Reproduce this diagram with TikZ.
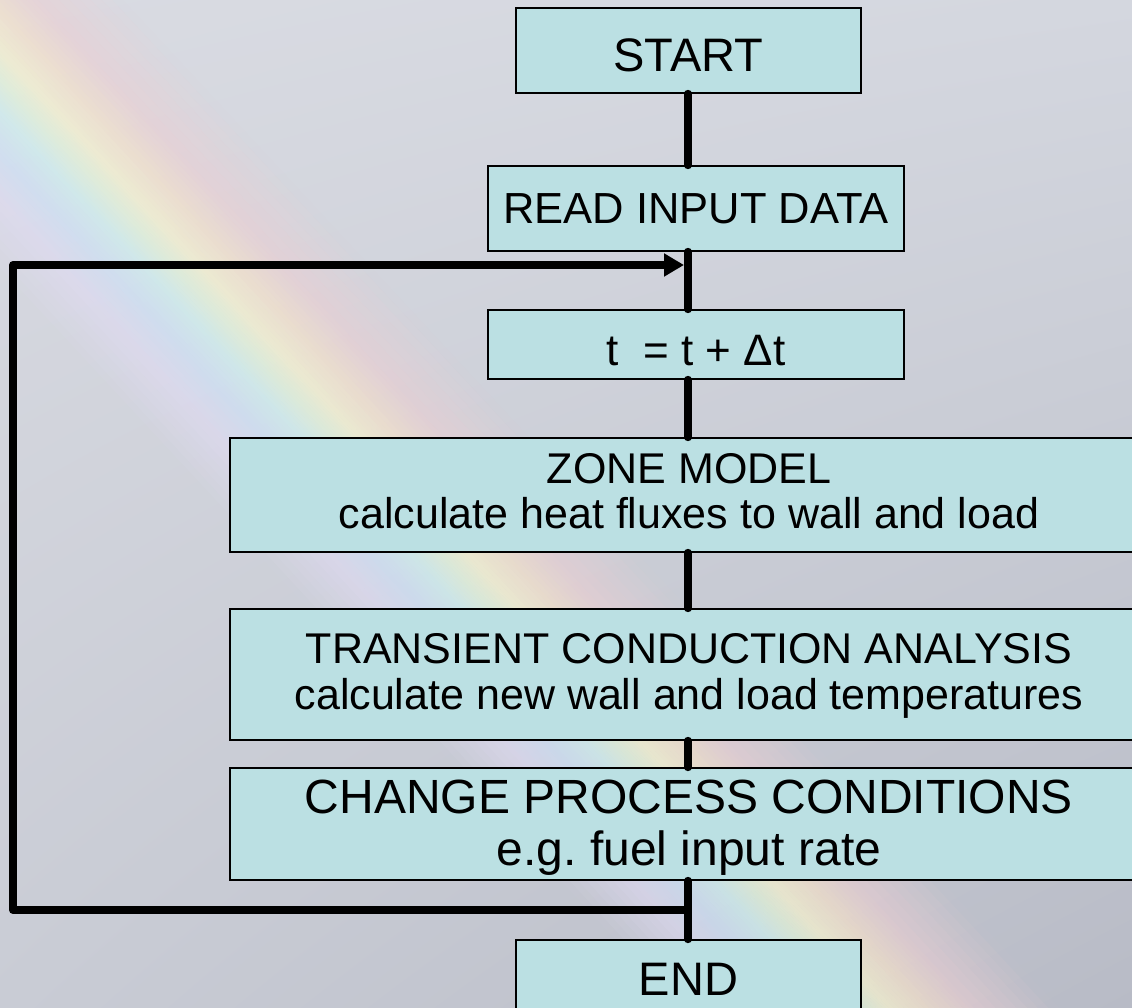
\documentclass[tikz,border=0pt]{standalone}
\usepackage{fontspec}
\setmainfont{Liberation Sans}
\usetikzlibrary{arrows.meta,shadings}
\frenchspacing

% colours
\definecolor{boxfill}{RGB}{187,224,227}
\definecolor{bgTL}{RGB}{217,219,226}
\definecolor{bgTR}{RGB}{212,215,223}
\definecolor{bgBL}{RGB}{201,204,213}
\definecolor{bgBR}{RGB}{184,187,198}
\definecolor{rbLav}{RGB}{226,220,246}
\definecolor{rbBlue}{RGB}{206,226,250}
\definecolor{rbCyan}{RGB}{206,242,240}
\definecolor{rbGreen}{RGB}{228,246,216}
\definecolor{rbYellow}{RGB}{247,243,205}
\definecolor{rbPeach}{RGB}{247,225,200}
\definecolor{rbPink}{RGB}{238,206,210}

\newcommand\fsz[1]{\fontsize{#1}{#1}\selectfont}

\begin{document}
\begin{tikzpicture}[x=1pt,y=-1pt,
  stepbox/.style={draw=black, line width=1.6pt, fill=boxfill, inner sep=0pt},
  link/.style={draw=black, line width=8pt, line cap=round},
  looplink/.style={draw=black, line width=8pt, line join=round,
    -{Triangle[length=20pt,width=22pt]}},
  txt/.style={anchor=base, inner sep=0pt, text=black}]

\useasboundingbox (0,0) rectangle (1132,1008);
\clip (0,0) rectangle (1132,1008);

% grey backdrop
\shade[upper left=bgTL, upper right=bgTR, lower left=bgBL, lower right=bgBR]
  (0,0) rectangle (1132,1008);

% pale diagonal rainbow band, built from thin strips
\foreach \da/\db/\ca/\cb/\pa/\pb in {
   -210/-140/rbLav/rbLav/0/0.55,
   -140/-95/rbLav/rbBlue/0.55/0.6,
   -95/-55/rbBlue/rbCyan/0.6/0.65,
   -55/-25/rbCyan/rbGreen/0.65/0.65,
   -25/0/rbGreen/rbYellow/0.65/0.7,
   0/40/rbYellow/rbPeach/0.7/0.65,
   40/85/rbPeach/rbPink/0.65/0.55,
   85/170/rbPink/rbPink/0.55/0}{
  \foreach \k in {0,...,7}{
    \pgfmathsetmacro\lo{\da+(\db-\da)*\k/8}
    \pgfmathsetmacro\hi{\da+(\db-\da)*(\k+1)/8}
    \pgfmathtruncatemacro\mx{100-100*(\k+0.5)/8}
    \pgfmathsetmacro\op{\pa+(\pb-\pa)*(\k+0.5)/8}
    \fill[fill=\ca!\mx!\cb, fill opacity=\op]
      ({-93.6+\lo},-50) -- ({937.2+\lo},1060) --
      ({937.2+\hi},1060) -- ({-93.6+\hi},-50) -- cycle;
  }
}

% flowchart boxes
\node[stepbox, minimum width=345pt, minimum height=85pt]  (start)  at (688.5,50.5) {};
\node[stepbox, minimum width=416pt, minimum height=85pt]  (read)   at (696,208.5) {};
\node[stepbox, minimum width=416pt, minimum height=69pt]  (tstep)  at (696,344.5) {};
\node[stepbox, minimum width=918pt, minimum height=114pt] (zone)   at (689,495) {};
\node[stepbox, minimum width=918pt, minimum height=131pt] (trans)  at (689,674.5) {};
\node[stepbox, minimum width=918pt, minimum height=112pt] (change) at (689,824) {};
\node[stepbox, minimum width=345pt, minimum height=86pt]  (finish) at (688.5,983) {};

% box texts
\node[txt, font=\fsz{47}]   (startT)   at (688.5,72)  {START};
\node[txt, font=\fsz{43.5}] (readT)    at (696,224)   {READ INPUT DATA};
\node[txt, font=\fsz{44}]   (tstepT)   at (696,365)   {t\ \ = t + Δt};
\node[txt, font=\fsz{43}]   (zoneA)    at (689,483)   {ZONE MODEL};
\node[txt, font=\fsz{43}]   (zoneB)    at (689,528)   {calculate heat fluxes to wall and load};
\node[txt, font=\fsz{43}]   (transA)   at (689,663)   {TRANSIENT CONDUCTION ANALYSIS};
\node[txt, font=\fsz{43}]   (transB)   at (689,709)   {calculate new wall and load temperatures};
\node[txt, font=\fsz{48}]   (changeA)  at (689,813)   {CHANGE PROCESS CONDITIONS};
\node[txt, font=\fsz{48}]   (changeB)  at (689,865)   {e.g. fuel input rate};
\node[txt, font=\fsz{47}]   (finishT)  at (688.5,995) {END};

% vertical flow line
\coordinate (axis) at (688,0);
\draw[link] (axis |- start.south)  -- (axis |- read.north);
\draw[link] (axis |- read.south)   -- (axis |- tstep.north);
\draw[link] (axis |- tstep.south)  -- (axis |- zone.north);
\draw[link] (axis |- zone.south)   -- (axis |- trans.north);
\draw[link] (axis |- trans.south)  -- (axis |- change.north);
\draw[link] (axis |- change.south) -- (axis |- finish.north);

% return loop
\coordinate (loopout) at (688,910);
\coordinate (cornerB) at (13,910);
\coordinate (cornerT) at (13,265);
\coordinate (loopin)  at (684,265);
\draw[looplink] (loopout) -- (cornerB) -- (cornerT) -- (loopin);
\end{tikzpicture}
\end{document}
